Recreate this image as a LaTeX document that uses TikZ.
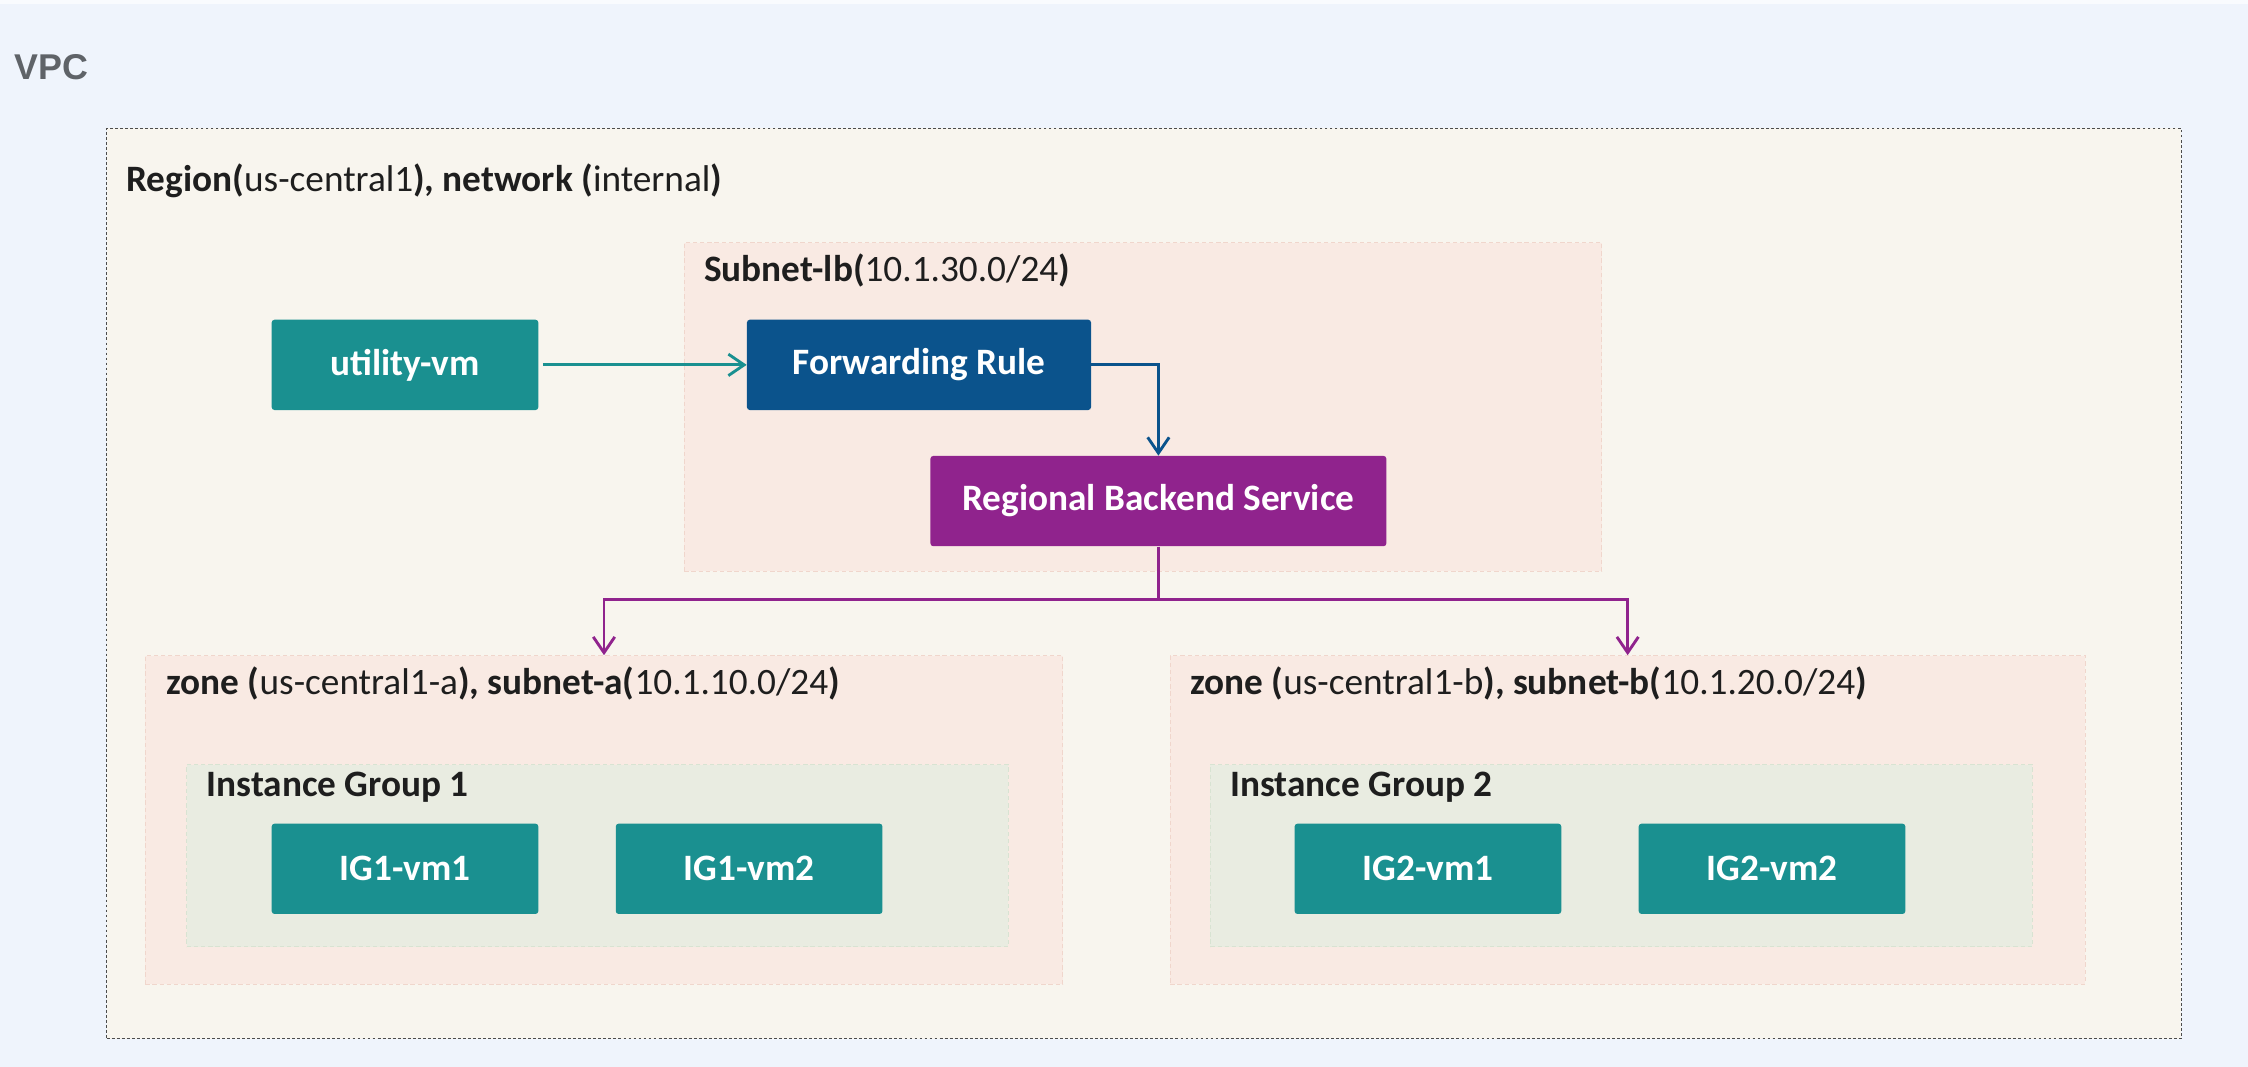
\documentclass[tikz,border=0pt]{standalone}
\usepackage{fontspec}
\setmainfont{Carlito}
\newfontfamily\vpcfont{Liberation Sans}
\usetikzlibrary{arrows.meta,calc}
\definecolor{bgblue}{HTML}{EFF4FC}
\definecolor{cream}{HTML}{F8F5EE}
\definecolor{pinkbox}{HTML}{F9EAE3}
\definecolor{pinkedge}{HTML}{F0D6CC}
\definecolor{igbox}{HTML}{E9ECE1}
\definecolor{igedge}{HTML}{D8E3D2}
\definecolor{tealc}{HTML}{1A9090}
\definecolor{bluec}{HTML}{0B538C}
\definecolor{purpc}{HTML}{90238D}
\definecolor{txt}{HTML}{1E1E1E}
\definecolor{vpcgrey}{HTML}{5F6368}
\tikzset{
  x=1pt, y=-1pt,
  region/.style={draw=black!70, dashed, dash pattern=on 2pt off 1.5pt, line width=0.8pt, fill=cream, anchor=north west, inner sep=0, rectangle},
  pinkc/.style={draw=pinkedge, dash pattern=on 3pt off 2pt, line width=0.6pt, fill=pinkbox, anchor=north west, inner sep=0, rectangle},
  igc/.style={draw=igedge, dash pattern=on 3pt off 2pt, line width=0.6pt, fill=igbox, anchor=north west, inner sep=0, rectangle},
  lbl/.style={anchor=west, inner sep=0, text=txt, font=\fontsize{26}{30}\selectfont},
  vmbox/.style={rectangle, rounded corners=2pt, inner sep=0, text=white, font=\bfseries\fontsize{26}{30}\selectfont},
  tealvm/.style={vmbox, fill=tealc, minimum width=186pt, minimum height=63pt},
  conn/.style={line width=2pt, -{Straight Barb[length=11pt,width=15pt,line width=2pt]}},
}
\begin{document}
\begin{tikzpicture}
\useasboundingbox (0,0) rectangle (1568,744);
\fill[bgblue] (0,0) rectangle (1568,744);
\fill[white!60!bgblue] (0,0) rectangle (1568,3);

\node[anchor=west, inner sep=0, text=vpcgrey, font=\vpcfont\bfseries\fontsize{25}{30}\selectfont] (vpc) at (10,47) {VPC};

% region container
\node[region, minimum width=1447pt, minimum height=635pt] (region) at (74,89) {};
\node[lbl] (regionlbl) at (88,126) {\textbf{Region(}us-central1\textbf{), network (}internal\textbf{)}};

% subnet-lb
\node[pinkc, minimum width=640pt, minimum height=229pt] (subnetlb) at (477,169) {};
\node[lbl] (subnetlbl) at (491,189) {\textbf{Subnet-lb(}10.1.30.0/24\textbf{)}};

% zones
\node[pinkc, minimum width=640pt, minimum height=229pt] (zonea) at (101,457) {};
\node[lbl] (zonealbl) at (116,477) {\textbf{zone (}us-central1-a\textbf{), subnet-a(}10.1.10.0/24\textbf{)}};
\node[pinkc, minimum width=638pt, minimum height=229pt] (zoneb) at (816,457) {};
\node[lbl] (zoneblbl) at (830,477) {\textbf{zone (}us-central1-b\textbf{), subnet-b(}10.1.20.0/24\textbf{)}};

% instance groups
\node[igc, minimum width=573pt, minimum height=127pt] (ig1) at (130,533) {};
\node[lbl, font=\bfseries\fontsize{26}{30}\selectfont] (ig1lbl) at (144,549) {Instance Group 1};
\node[igc, minimum width=573pt, minimum height=127pt] (ig2) at (844,533) {};
\node[lbl, font=\bfseries\fontsize{26}{30}\selectfont] (ig2lbl) at (858,549) {Instance Group 2};

% vms
\node[tealvm] (util) at (282.5,254.5) {utility-vm};
\node[vmbox, fill=bluec, minimum width=240pt, minimum height=63pt] (fwd) at (641,254.5) {Forwarding Rule};
\node[vmbox, fill=purpc, minimum width=318pt, minimum height=63pt] (rbs) at (808,349.5) {Regional Backend Service};
\node[tealvm] (ig1vm1) at (282.5,606) {IG1-vm1};
\node[tealvm] (ig1vm2) at (522.5,606) {IG1-vm2};
\node[tealvm] (ig2vm1) at (996,606) {IG2-vm1};
\node[tealvm] (ig2vm2) at (1236,606) {IG2-vm2};

% connectors
\draw[conn, draw=tealc, shorten <=3pt] (util.east) -- (fwd.west);
\draw[conn, draw=bluec] (fwd.east) -| (rbs.north);
\coordinate (split) at ($(rbs.south)+(0,37)$);
\draw[line width=2pt, draw=purpc] (rbs.south) -- (split);
\draw[conn, draw=purpc] (split) -| (zonea.north);
\draw[conn, draw=purpc] (split) -| (zoneb.north);
\end{tikzpicture}
\end{document}
